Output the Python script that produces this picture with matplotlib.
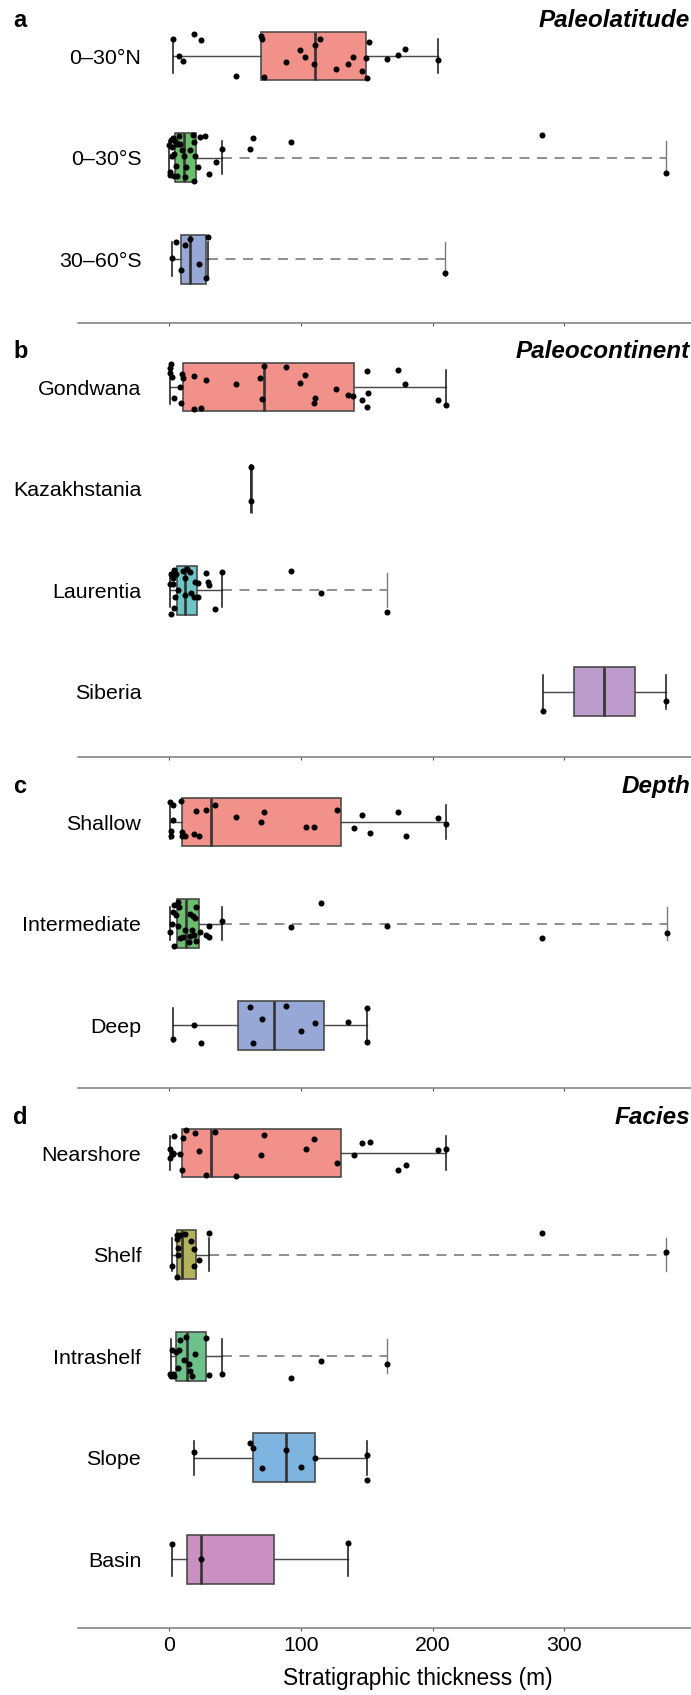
#!/usr/bin/env python3
"""Stratigraphic thickness box plots by paleolatitude, paleocontinent, depth and facies."""
import matplotlib

matplotlib.use("Agg")
import matplotlib.pyplot as plt
import numpy as np

# ---- data (thickness in m) ----
LAT_CATS = ["0–30°N", "0–30°S", "30–60°S"]
LAT_VALUES = [
    [3.0, 7.4, 10.1, 18.3, 23.7, 50.7, 69.3, 70.0, 71.7, 88.3, 99.4, 103.1, 109.6,
     110.6, 114.6, 126.5, 135.3, 139.7, 146.1, 149.1, 150.2, 151.8, 165.0, 173.8, 179.2, 204.3],
    [0.0, 0.3, 0.5, 1.0, 1.6, 2.0, 2.4, 3.2, 3.7, 4.2, 5.0, 5.0, 5.8, 6.3, 7.0, 8.0, 9.5,
     10.8, 11.5, 12.3, 15.5, 18.1, 18.6, 18.9, 19.4, 22.0, 23.4, 27.3, 29.9, 35.2, 39.9,
     61.0, 63.2, 92.0, 283.0, 377.4],
    [2.0, 5.1, 8.8, 12.2, 16.0, 22.3, 27.7, 29.1, 209.7],
]
# (lower whisker, q1, median, q3, upper whisker)
LAT_BOXES = [(3.0, 69.3, 110.6, 149.1, 204.3), (0.0, 4.1, 10.8, 20.0, 39.9), (2.0, 8.8, 16.0, 27.7, 29.1)]
LAT_COLORS = ["#F2918A", "#6BBE6B", "#97A8D6"]

CONT_CATS = ["Gondwana", "Kazakhstania", "Laurentia", "Siberia"]
CONT_VALUES = [
    [0.3, 0.3, 1.4, 2.0, 3.4, 7.8, 8.8, 9.8, 10.1, 18.3, 18.9, 23.7, 27.7, 50.7, 69.0, 70.0,
     71.7, 88.3, 99.4, 103.1, 109.6, 110.9, 126.8, 135.3, 139.7, 146.1, 149.8, 149.8, 151.2,
     173.5, 179.2, 204.3, 210.0],
    [62.2, 62.2],
    [0.5, 1.0, 1.1, 1.6, 2.4, 2.8, 3.2, 3.7, 4.4, 5.0, 6.8, 10.2, 11.5, 12.1, 13.6, 15.5, 16.3,
     18.9, 19.4, 22.0, 22.0, 28.1, 29.4, 30.4, 34.6, 39.9, 92.3, 115.0, 165.0],
    [283.4, 377.4],
]
CONT_BOXES = [(0.3, 10.5, 72.0, 140.0, 210.0), (62.2, 62.2, 62.2, 62.2, 62.2),
              (0.5, 5.4, 11.5, 20.6, 39.9), (283.4, 307.0, 330.4, 354.0, 377.4)]
CONT_COLORS = ["#F2918A", "#8DB84A", "#6CC6C6", "#BE9BCD"]

DEPTH_CATS = ["Shallow", "Intermediate", "Deep"]
DEPTH_VALUES = [
    [0.3, 1.0, 1.0, 2.4, 3.0, 9.1, 9.8, 9.8, 12.2, 18.9, 20.0, 22.7, 28.1, 34.8, 50.7, 69.3,
     72.0, 103.8, 109.6, 127.2, 140.0, 146.1, 152.2, 173.8, 179.6, 204.3, 210.0],
    [0.5, 1.6, 2.4, 3.2, 3.7, 5.0, 6.3, 6.3, 7.6, 8.4, 10.2, 11.5, 14.7, 15.5, 15.5, 16.8, 18.1,
     18.9, 19.4, 19.9, 20.2, 23.4, 28.1, 29.9, 30.4, 39.9, 92.3, 115.0, 165.0, 283.0, 377.7],
    [2.4, 18.3, 24.0, 60.9, 63.6, 70.3, 88.6, 100.1, 110.9, 135.6, 150.2, 150.2],
]
DEPTH_BOXES = [(0.3, 9.8, 31.5, 130.5, 210.0), (0.5, 5.6, 12.4, 22.4, 39.9), (2.4, 52.0, 79.5, 117.1, 150.2)]
DEPTH_COLORS = ["#F2918A", "#6BBE6B", "#97A8D6"]

FACIES_CATS = ["Nearshore", "Shelf", "Intrashelf", "Slope", "Basin"]
FACIES_VALUES = [
    [0.7, 0.7, 2.7, 2.7, 3.4, 8.1, 9.5, 10.5, 12.5, 19.3, 22.7, 28.1, 34.8, 50.7, 69.3, 72.0,
     103.8, 109.6, 127.2, 140.0, 146.1, 152.2, 173.8, 179.6, 204.3, 210.0],
    [2.0, 5.4, 5.7, 6.1, 6.8, 6.8, 8.1, 12.2, 16.6, 18.6, 18.9, 22.3, 30.1, 283.0, 377.4],
    [0.5, 1.1, 1.6, 2.4, 3.7, 5.0, 6.8, 7.6, 8.4, 11.0, 12.8, 14.9, 15.5, 17.3, 19.4, 28.1,
     29.9, 39.9, 92.3, 115.0, 165.0],
    [18.3, 60.9, 63.2, 70.3, 88.6, 100.1, 110.9, 150.2, 150.2],
    [2.0, 24.0, 135.6],
]
FACIES_BOXES = [(0.7, 9.8, 31.5, 130.5, 210.0), (2.0, 6.1, 9.8, 20.3, 30.1), (1.1, 4.8, 13.0, 27.9, 39.9),
                (18.3, 63.2, 88.6, 110.9, 150.2), (2.0, 13.0, 24.0, 79.8, 135.6)]
FACIES_COLORS = ["#F2918A", "#B2B25C", "#6DC28C", "#7DB4E0", "#CB90C2"]

XTICKS = [0, 100, 200, 300]
XLABEL = "Stratigraphic thickness (m)"

# ---- layout (pixels of the 691 x 1695 canvas) ----
W, H, DPI = 691, 1695, 100
ROW_PX = 101.6
AX_LEFT, AX_RIGHT = 77.8, 691.0
XLIM = (-69.6, 396.2)
FIRST_ROW = [56, 387, 822, 1153]
AXIS_LINE = [323, 757, 1088, 1628]
BOX_W, CAP_W = 0.48, 0.33


def draw_panel(ax, values, boxes, colors, rng):
    pos = np.arange(len(values))
    stats = [dict(whislo=b[0], q1=b[1], med=b[2], q3=b[3], whishi=b[4], fliers=[]) for b in boxes]

    # dashed tail from the upper whisker to the group maximum
    for p, vals, b in zip(pos, values, boxes):
        top = max(vals)
        if top > b[4] + 1e-9:
            ax.plot([b[4], top], [p, p], color="#7c7c7c", linewidth=1.2,
                    linestyle=(0, (6.0, 4.5)), zorder=1)
            ax.plot([top, top], [p - CAP_W / 2, p + CAP_W / 2], color="#7c7c7c",
                    linewidth=1.0, zorder=1)

    art = ax.bxp(
        stats, positions=pos, widths=BOX_W, orientation="horizontal", patch_artist=True,
        showfliers=False, capwidths=CAP_W, manage_ticks=False,
        boxprops=dict(edgecolor="#454545", linewidth=1.15),
        medianprops=dict(color="#333333", linewidth=1.9),
        whiskerprops=dict(color="#4a4a4a", linewidth=1.05),
        capprops=dict(color="#1e1e1e", linewidth=1.15),
    )
    for patch, col in zip(art["boxes"], colors):
        patch.set_facecolor(col)
        patch.set_zorder(2)

    for p, vals in zip(pos, values):
        jit = rng.uniform(-0.23, 0.23, len(vals))
        ax.scatter(vals, p + jit, s=19, color="black", linewidths=0, zorder=4)


def main() -> None:
    plt.rcParams["font.family"] = ["Liberation Sans", "DejaVu Sans"]
    fig = plt.figure(figsize=(W / DPI, H / DPI), dpi=DPI, facecolor="white")
    rng = np.random.default_rng(11)

    panels = [
        ("a", "Paleolatitude", LAT_CATS, LAT_VALUES, LAT_BOXES, LAT_COLORS),
        ("b", "Paleocontinent", CONT_CATS, CONT_VALUES, CONT_BOXES, CONT_COLORS),
        ("c", "Depth", DEPTH_CATS, DEPTH_VALUES, DEPTH_BOXES, DEPTH_COLORS),
        ("d", "Facies", FACIES_CATS, FACIES_VALUES, FACIES_BOXES, FACIES_COLORS),
    ]
    for idx, (letter, title, cats, values, boxes, colors) in enumerate(panels):
        first, axis_y = FIRST_ROW[idx], AXIS_LINE[idx]
        top_px = first - 0.45 * ROW_PX
        bottom_units = (axis_y - first) / ROW_PX
        ax = fig.add_axes([AX_LEFT / W, 1 - axis_y / H, (AX_RIGHT - AX_LEFT) / W, (axis_y - top_px) / H])
        ax.set_facecolor("none")
        draw_panel(ax, values, boxes, colors, rng)

        ax.set_xlim(*XLIM)
        ax.set_ylim(bottom_units, -0.45)
        for side in ("top", "left", "right"):
            ax.spines[side].set_visible(False)
        ax.spines["bottom"].set_color("#7a7a7a")
        ax.spines["bottom"].set_linewidth(1.1)
        ax.set_yticks([])
        ax.set_xticks(XTICKS)
        ax.set_xticks([0], minor=True)
        ax.tick_params(axis="x", which="major", direction="out", length=2.5, width=0.8,
                       color="#555555", labelsize=15.3, pad=3)
        ax.tick_params(axis="x", which="minor", direction="inout", length=7, width=1.1, color="#222222")
        if idx < len(panels) - 1:
            ax.tick_params(axis="x", which="both", labelbottom=False)
        else:
            ax.set_xlabel(XLABEL, fontsize=16.4)
            ax.xaxis.set_label_coords((418 - AX_LEFT) / (AX_RIGHT - AX_LEFT),
                                      -(1678 - axis_y) / (axis_y - top_px))
            ax.xaxis.label.set_va("center")

        label_x = (141.3 - AX_LEFT) / (AX_RIGHT - AX_LEFT)
        for i, cat in enumerate(cats):
            ax.text(label_x, i + 0.075, cat, transform=ax.get_yaxis_transform(),
                    ha="right", va="baseline", fontsize=15.4)

        base = 1 - (first - 29) / H
        fig.text(13 / W, base, letter, fontsize=17, fontweight="bold", va="baseline")
        fig.text(1 - 1 / W, base, title, fontsize=17.5, fontweight="bold", style="italic",
                 ha="right", va="baseline")

    fig.savefig("out.png", dpi=DPI, facecolor="white")
    plt.close(fig)


if __name__ == "__main__":
    main()
